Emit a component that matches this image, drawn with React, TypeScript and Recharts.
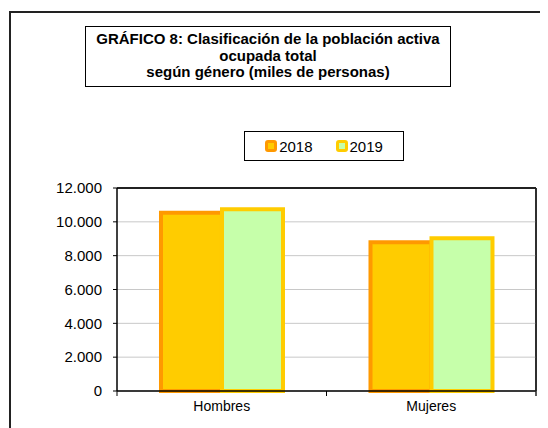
import React from 'react';
import { BarChart, Bar, XAxis, YAxis, CartesianGrid } from 'recharts';

const categories = ['Hombres', 'Mujeres'];
const values2018 = [10530, 8790];
const values2019 = [10740, 9030];
const seriesNames = ['2018', '2019'];
const yTicks = [0, 2000, 4000, 6000, 8000, 10000, 12000];
const titleLines = [
  'GRÁFICO 8: Clasificación de la población activa',
  'ocupada total',
  'según género (miles de personas)',
];

const data = categories.map((c, i) => ({ name: c, y2018: values2018[i], y2019: values2019[i] }));

const FONT = '"Liberation Sans", Arial, sans-serif';

const fmt = (v: number) => String(v).replace(/\B(?=(\d{3})+(?!\d))/g, '.');

const legendItems = [
  { label: seriesNames[0], fill: '#FFCC00', stroke: '#FF9900' },
  { label: seriesNames[1], fill: '#C6FFAA', stroke: '#FFCC00' },
];

const CatTick = (props: any) => {
  const { x, y, payload, index, visibleTicksCount } = props;
  const half = payload && payload.offset ? payload.offset : 0;
  const isLast = index === visibleTicksCount - 1;
  return (
    <g>
      <line x1={x - half} x2={x - half} y1={y} y2={y + 5} stroke="#000" strokeWidth={1} />
      {isLast && <line x1={x + half} x2={x + half} y1={y} y2={y + 5} stroke="#222" strokeWidth={1.5} />}
      <text x={x} y={y + 10} dy="0.71em" textAnchor="middle" fontFamily={FONT} fontSize={14} fill="#000">
        {payload.value}
      </text>
    </g>
  );
};

const GridLine = (p: any) => {
  const { x1, x2, y1, y2, x, y, width, height, index } = p;
  const hasBox = [x, y, width, height].every((v) => typeof v === 'number');
  return (
    <g>
      <line x1={x1} x2={x2} y1={y1} y2={y2} stroke="#c8c8c8" strokeWidth={1} />
      {index === 0 && hasBox && (
        <g>
          <line x1={x} x2={x + width} y1={y} y2={y} stroke="#000" strokeWidth={1.5} />
          <line x1={x + width} x2={x + width} y1={y} y2={y + height} stroke="#222" strokeWidth={1.5} />
        </g>
      )}
    </g>
  );
};

export default function App() {
  return (
    <div style={{ position: 'relative', width: 540, height: 420 }}>
      <BarChart
        width={540}
        height={420}
        data={data}
        margin={{ top: 179, right: 11, bottom: 12, left: 0 }}
        barCategoryGap="21%"
        barGap={0}
      >
        <CartesianGrid vertical={false} horizontal={<GridLine />} />
        <XAxis
          dataKey="name"
          tickLine={false}
          axisLine={{ stroke: '#000', strokeWidth: 1.5 }}
          tickSize={0}
          tickMargin={0}
          height={25}
          tick={<CatTick />}
          interval={0}
        />
        <XAxis
          xAxisId="top"
          dataKey="name"
          orientation="top"
          height={1}
          tick={false}
          tickLine={false}
          axisLine={{ stroke: '#000', strokeWidth: 1.5 }}
        />
        <YAxis
          domain={[0, 12000]}
          ticks={yTicks}
          width={109}
          tickSize={4}
          tickMargin={11}
          tickFormatter={fmt}
          axisLine={{ stroke: '#000', strokeWidth: 1.5 }}
          tickLine={{ stroke: '#000' }}
          tick={{ fontFamily: FONT, fontSize: 15, fill: '#000' }}
        />
        <YAxis
          yAxisId="right"
          orientation="right"
          domain={[0, 12000]}
          width={1}
          tick={false}
          tickLine={false}
          axisLine={{ stroke: '#222', strokeWidth: 1.5 }}
        />
        <Bar
          dataKey="y2018"
          name={seriesNames[0]}
          fill="#FFCC00"
          stroke="#FF9900"
          strokeWidth={4}
          isAnimationActive={false}
        />
        <Bar
          dataKey="y2019"
          name={seriesNames[1]}
          fill="#C6FFAA"
          stroke="#FFCC00"
          strokeWidth={4}
          isAnimationActive={false}
        />
      </BarChart>
      <div
        style={{
          position: 'absolute',
          left: 1,
          top: 3,
          width: 539,
          height: 417,
          borderLeft: '2px solid #222',
          borderTop: '2px solid #222',
          pointerEvents: 'none',
        }}
      />
      <div
        style={{
          position: 'absolute',
          left: 77,
          top: 18,
          width: 366,
          height: 61,
          boxSizing: 'border-box',
          border: '1px solid #000',
          fontFamily: FONT,
          fontWeight: 'bold',
          fontSize: 15,
          lineHeight: '16.5px',
          textAlign: 'center',
          paddingTop: 4,
          color: '#000',
        }}
      >
        {titleLines.map((l) => (
          <div key={l}>{l}</div>
        ))}
      </div>
      <div
        style={{
          position: 'absolute',
          left: 236,
          top: 123,
          width: 160,
          height: 30,
          boxSizing: 'border-box',
          border: '1px solid #000',
          display: 'flex',
          alignItems: 'center',
          justifyContent: 'center',
          gap: 23,
          fontFamily: FONT,
          fontSize: 15,
          color: '#000',
        }}
      >
        {legendItems.map((it) => (
          <div key={it.label} style={{ display: 'flex', alignItems: 'center' }}>
            <svg width={12} height={12} style={{ marginRight: 2 }}>
              <rect x={1.5} y={1.5} width={9} height={9} rx={1.5} fill={it.fill} stroke={it.stroke} strokeWidth={3} />
            </svg>
            <span>{it.label}</span>
          </div>
        ))}
      </div>
    </div>
  );
}
